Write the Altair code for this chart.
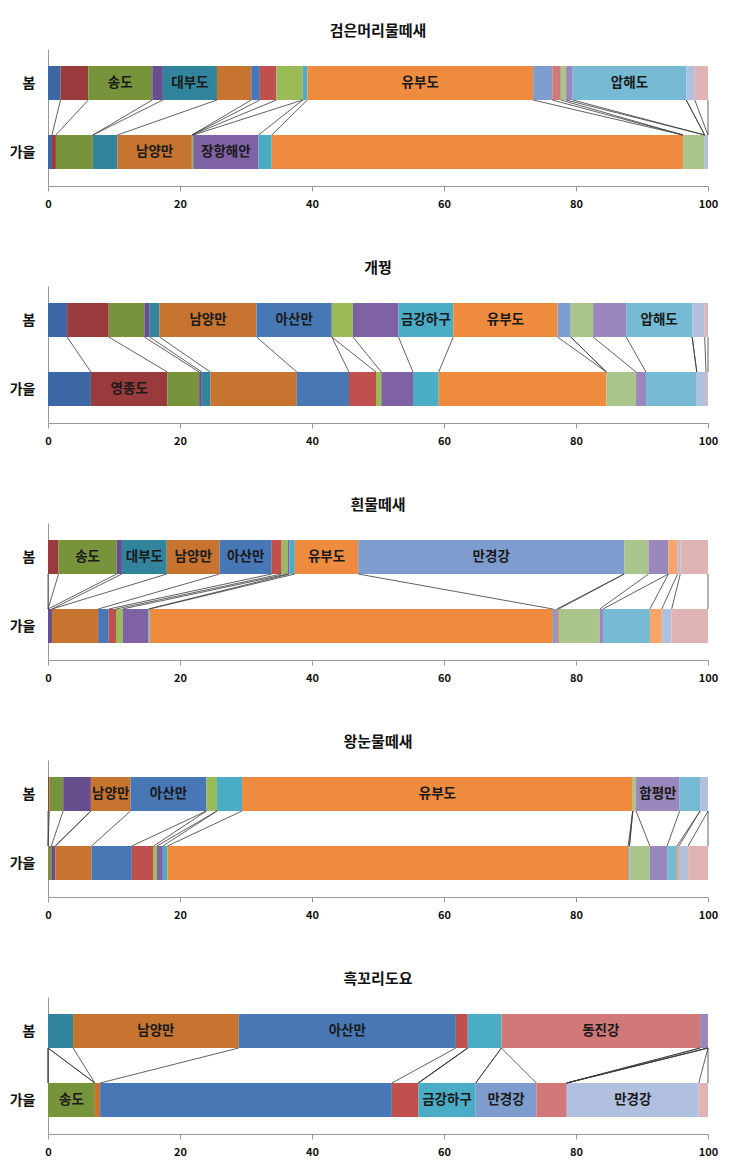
import altair as alt
import pandas as pd

FONT = "Noto Sans CJK KR"

species = ["검은머리물떼새", "개꿩", "흰물떼새", "왕눈물떼새", "흑꼬리도요"]
seasons = ["봄", "가을"]

sites = ["지역01", "영종도", "송도", "지역04", "대부도", "남양만", "아산만", "지역08",
         "지역09", "장항해안", "금강하구", "유부도", "만경강", "동진강", "지역15", "함평만",
         "압해도", "지역18", "지역19", "지역20"]
colors = ["#3B67A4", "#993A3C", "#77933C", "#674E8F", "#31849B", "#C6742F", "#4777B5",
          "#C0504D", "#9BBB59", "#7F62A3", "#4BACC6", "#EE8B3E", "#7E9DCE", "#D07978",
          "#A9C58B", "#9A87BB", "#76BBD3", "#F9A46A", "#B2C0DF", "#E0B3B5"]

# percentages per site (same order as `sites`)
spring_1 = [1.9, 4.2, 9.7, 1.6, 8.2, 5.2, 1.3, 2.5, 4.0, 0, 0.7, 34.2, 2.9, 1.3, 0.8, 1.0, 17.2, 0, 1.3, 2.0]
autumn_1 = [0.6, 0.6, 5.6, 0, 3.7, 11.3, 0, 0, 0.2, 9.9, 2.0, 62.3, 0, 0, 3.3, 0, 0, 0, 0.5, 0]
spring_2 = [2.9, 6.3, 5.4, 0.8, 1.5, 14.7, 11.4, 0, 3.2, 6.9, 8.3, 15.8, 2.0, 0, 3.4, 5.0, 10.0, 0, 1.9, 0.5]
autumn_2 = [6.5, 11.6, 4.8, 0.4, 1.3, 13.1, 7.9, 4.1, 0.8, 4.8, 3.9, 25.4, 0, 0, 4.5, 1.5, 7.7, 0, 1.4, 0.3]
spring_3 = [0, 1.6, 8.8, 0.8, 6.8, 8.0, 7.9, 1.5, 0.9, 0.3, 0.8, 9.6, 40.3, 0, 3.7, 3.0, 0, 1.4, 0.4, 4.2]
autumn_3 = [0, 0, 0, 0.6, 0, 7.0, 1.6, 1.1, 1.0, 3.9, 0.2, 61.1, 0.6, 0.3, 6.2, 0.5, 7.1, 1.8, 1.5, 5.5]
spring_4 = [0, 0.2, 2.1, 4.2, 0, 6.0, 11.5, 0, 1.6, 0, 3.8, 59.2, 0, 0, 0.5, 6.6, 3.1, 0, 1.2, 0]
autumn_4 = [0, 0, 0.5, 0.6, 0, 5.5, 6.1, 3.3, 0.5, 0.9, 0.7, 69.8, 0.2, 0, 3.1, 2.6, 1.5, 0.3, 1.4, 3.0]
spring_5 = [0, 0, 0, 0, 3.8, 25.1, 32.9, 1.8, 0, 0, 5.1, 0, 0, 30.1, 0, 1.2, 0, 0, 0, 0]
autumn_5 = [0, 0, 7.1, 0, 0, 0.8, 44.2, 4.0, 0, 0, 8.7, 0, 9.2, 4.6, 0, 0, 0, 0, 20.0, 1.4]

spring_all = [spring_1, spring_2, spring_3, spring_4, spring_5]
autumn_all = [autumn_1, autumn_2, autumn_3, autumn_4, autumn_5]

# segment labels: panel index, season index, site index, text
label_panel = [0, 0, 0, 0, 0, 0,
               1, 1, 1, 1, 1, 1,
               2, 2, 2, 2, 2, 2,
               3, 3, 3, 3,
               4, 4, 4, 4, 4, 4, 4]
label_season = [0, 0, 0, 0, 1, 1,
                0, 0, 0, 0, 0, 1,
                0, 0, 0, 0, 0, 0,
                0, 0, 0, 0,
                0, 0, 0, 1, 1, 1, 1]
label_site = [2, 4, 11, 16, 5, 9,
              5, 6, 10, 11, 16, 1,
              2, 4, 5, 6, 11, 12,
              5, 6, 11, 15,
              5, 6, 13, 2, 10, 12, 18]
label_text = ["송도", "대부도", "유부도", "압해도", "남양만", "장항해안",
              "남양만", "아산만", "금강하구", "유부도", "압해도", "영종도",
              "송도", "대부도", "남양만", "아산만", "유부도", "만경강",
              "남양만", "아산만", "유부도", "함평만",
              "남양만", "아산만", "동진강", "송도", "금강하구", "만경강", "만경강"]

# layout constants (plot-pixel units, measured from top of plot area)
H = 137
BAR_TOP = [17, 86]
BAR_BOT = [51, 120]


def cum_ends(vals):
    out, c = [], 0.0
    for v in vals:
        c = round(c + v, 4)
        out.append(c)
    return out


XSCALE = alt.Scale(domain=[0, 100], nice=False)
YSCALE = alt.Scale(domain=[0, H], reverse=True, nice=False)
XAXIS = alt.Axis(values=[0, 20, 40, 60, 80, 100], title=None, grid=False,
                 labelFontWeight="bold", labelFontSize=11, labelColor="#111",
                 domainColor="#999", tickColor="#999", tickSize=5,
                 labelPadding=7, minExtent=22, maxExtent=22, labelFlush=False)
YAXIS = alt.Axis(values=[34, 103], labelExpr="datum.value < 60 ? '봄' : '가을'",
                 title=None, grid=False, ticks=False, domainColor="#999",
                 labelFontWeight="bold", labelFontSize=14, labelColor="#111",
                 labelPadding=13, minExtent=35, maxExtent=35)


def panel(p):
    bars, lines, texts = [], [], []
    season_vals = [spring_all[p], autumn_all[p]]
    ends = [cum_ends(v) for v in season_vals]
    for s in range(2):
        start = 0.0
        for i, v in enumerate(season_vals[s]):
            if v > 0:
                bars.append(dict(site=sites[i], x0=start, x1=ends[s][i],
                                 yt=BAR_TOP[s], yb=BAR_BOT[s]))
            start = ends[s][i]
    for i in range(len(sites)):
        lines.append(dict(x0=ends[0][i], x1=ends[1][i], yt=BAR_BOT[0], yb=BAR_TOP[1]))
    for k in range(len(label_text)):
        if label_panel[k] != p:
            continue
        s, i = label_season[k], label_site[k]
        x0 = ends[s][i] - season_vals[s][i]
        texts.append(dict(t=label_text[k], x0=(x0 + ends[s][i]) / 2,
                          yt=(BAR_TOP[s] + BAR_BOT[s]) / 2))

    b = alt.Chart(pd.DataFrame(bars)).mark_bar(strokeWidth=0).encode(
        x=alt.X("x0:Q", scale=XSCALE, axis=XAXIS),
        x2="x1:Q",
        y=alt.Y("yt:Q", scale=YSCALE, axis=YAXIS),
        y2="yb:Q",
        color=alt.Color("site:N", scale=alt.Scale(domain=sites, range=colors), legend=None),
    )
    r = alt.Chart(pd.DataFrame(lines)).mark_rule(color="#3a3a3a", strokeWidth=0.8).encode(
        x=alt.X("x0:Q", scale=XSCALE, axis=XAXIS),
        x2="x1:Q",
        y=alt.Y("yt:Q", scale=YSCALE, axis=YAXIS),
        y2="yb:Q",
    )
    t = alt.Chart(pd.DataFrame(texts)).mark_text(
        font=FONT, fontSize=13.5, fontWeight="bold", color="#1a1a1a", baseline="middle"
    ).encode(
        x=alt.X("x0:Q", scale=XSCALE, axis=XAXIS),
        y=alt.Y("yt:Q", scale=YSCALE, axis=YAXIS),
        text="t:N",
    )
    return alt.layer(b, r, t).properties(
        width=660, height=H,
        title=alt.TitleParams(species[p], fontSize=15, fontWeight="bold", font=FONT,
                              anchor="middle", offset=10, color="#111"),
    )


chart = alt.vconcat(*[panel(p) for p in range(5)], spacing=52).properties(
    padding={"left": 1, "top": 16, "right": 5, "bottom": 5}
).configure(font=FONT).configure_view(stroke=None).configure_axis(labelFont=FONT)

chart.save("out.html", embed_options={"renderer": "svg", "actions": False})
